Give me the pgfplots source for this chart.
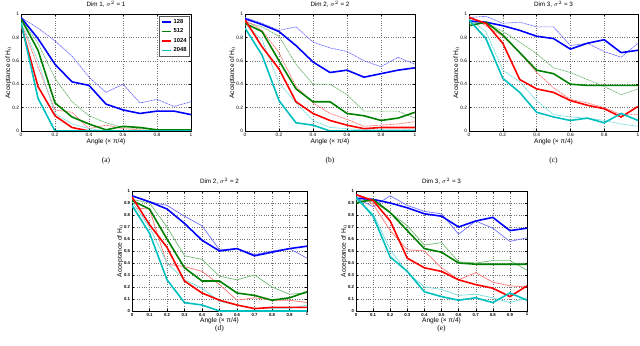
\documentclass[border=0pt]{standalone}
\usepackage{fontspec}
\setmainfont{Liberation Sans}
\newfontfamily\seriffont{Liberation Serif}
\usepackage{pgfplots}
\pgfplotsset{compat=1.18}
\definecolor{mB}{rgb}{0,0,1}
\definecolor{mG}{rgb}{0,0.5,0}
\definecolor{mR}{rgb}{1,0,0}
\definecolor{mC}{rgb}{0,0.75,0.75}
\pgfplotsset{
  panel/.style={scale only axis, anchor=south west,
    xmin=0,xmax=1,ymin=0,ymax=1,
    grid=major, major grid style={dotted, black!55, line width=0.4pt},
    tick align=inside, major tick length=2pt,
    tick style={black, line width=0.3pt},
    axis line style={line width=0.5pt},
    /pgf/number format/assume math mode=true,
    tick label style={font=\fontsize{4.8}{5}\selectfont},
    xticklabel style={yshift=1.5pt},
    yticklabel style={xshift=1.5pt},
    label style={font=\fontsize{6.6}{7}\selectfont},
    xlabel={Angle (× π/4)}, ylabel={Acceptance of H$_0$},
    xlabel style={yshift=5pt}, ylabel style={yshift=-6pt},
    title style={font=\fontsize{6.3}{7}\selectfont, yshift=-3pt},
  },
  top/.style={panel, width=170bp, height=117bp,
    xtick={0,0.2,0.4,0.6,0.8,1}, ytick={0,0.2,0.4,0.6,0.8,1},
    xticklabels={0,0.2,0.4,0.6,0.8,1}, yticklabels={0,0.2,0.4,0.6,0.8,1}},
  bot/.style={panel, height=120bp,
    xtick={0,0.1,0.2,0.3,0.4,0.5,0.6,0.7,0.8,0.9,1},
    ytick={0,0.1,0.2,0.3,0.4,0.5,0.6,0.7,0.8,0.9,1},
    xticklabels={0,0.1,0.2,0.3,0.4,0.5,0.6,0.7,0.8,0.9,1},
    yticklabels={0,0.1,0.2,0.3,0.4,0.5,0.6,0.7,0.8,0.9,1},
    tick label style={font=\fontsize{4.3}{4.5}\selectfont\bfseries}},
  thk/.style={line width=1.6pt, color=#1},
  tnd/.style={line width=0.7pt, color=#1!60, dash pattern=on 1.6pt off 0.6pt on 0.4pt off 0.6pt, forget plot},
  tns/.style={line width=0.7pt, color=#1!55, forget plot},
}
\begin{document}
\begin{tikzpicture}[x=1bp,y=1bp]
\path[use as bounding box] (0,0) rectangle (640,345);
% ---------------- (a)
\begin{axis}[top, name=pa, at={(21bp,214bp)}, title={Dim 1, $\sigma^2$ = 1},
  legend image code/.code={\draw[#1] (0cm,0cm) -- (0.32cm,0cm);},
  legend style={at={(0.995,0.985)}, anchor=north east, font=\fontsize{5.8}{6}\selectfont\bfseries,
    draw=black!65, line width=0.8pt, inner sep=1.2pt, row sep=0pt, fill=white},
  legend cell align=left]
\addplot[tnd=mB] coordinates {(0,0.97)(0.1,0.88)(0.2,0.77)(0.3,0.64)(0.4,0.46)(0.5,0.33)(0.6,0.40)(0.7,0.24)(0.8,0.27)(0.9,0.21)(1,0.25)};
\addplot[tnd=mG] coordinates {(0,0.96)(0.1,0.75)(0.2,0.45)(0.3,0.25)(0.4,0.13)(0.5,0.07)(0.6,0.03)(0.7,0.02)(0.8,0.01)(0.9,0.01)(1,0.0)};
\addplot[tnd=mR] coordinates {(0,0.93)(0.1,0.55)(0.2,0.18)(0.3,0.16)(0.4,0.02)(0.5,0.05)(0.6,0.02)(0.7,0.01)(0.8,0)(0.9,0)(1,0)};
\addplot[tnd=mC] coordinates {(0,0.93)(0.1,0.60)(0.2,0.15)(0.3,0.06)(0.4,0.02)(0.5,0)(0.6,0)(0.7,0)(0.8,0)(0.9,0)(1,0)};
\addplot[thk=mB] coordinates {(0,0.97)(0.1,0.79)(0.2,0.57)(0.3,0.42)(0.4,0.39)(0.5,0.23)(0.6,0.18)(0.7,0.15)(0.8,0.17)(0.9,0.17)(1,0.14)};
\addlegendentry{128}
\addplot[thk=mG] coordinates {(0,0.96)(0.1,0.69)(0.2,0.24)(0.3,0.12)(0.4,0.06)(0.5,0.01)(0.6,0.04)(0.7,0.03)(0.8,0.01)(0.9,0.01)(1,0.01)};
\addlegendentry{512}
\addplot[thk=mR] coordinates {(0,0.91)(0.1,0.38)(0.2,0.13)(0.3,0.03)(0.4,0)(0.5,0)(0.6,0)(0.7,0)(0.8,0)(0.9,0)(1,0)};
\addlegendentry{1024}
\addplot[thk=mC] coordinates {(0,0.93)(0.1,0.28)(0.2,0)(0.3,0)(0.4,0)(0.5,0)(0.6,0)(0.7,0)(0.8,0)(0.9,0)(1,0)};
\addlegendentry{2048}
\end{axis}
% ---------------- (b)
\begin{axis}[top, name=pb, at={(245bp,214bp)}, title={Dim 2, $\sigma^2$ = 2}]
\addplot[tnd=mB] coordinates {(0,0.97)(0.1,0.92)(0.2,0.86)(0.3,0.89)(0.4,0.76)(0.5,0.71)(0.6,0.68)(0.7,0.60)(0.8,0.55)(0.9,0.63)(1,0.57)};
\addplot[tnd=mG] coordinates {(0,0.93)(0.1,0.89)(0.2,0.81)(0.3,0.57)(0.4,0.40)(0.5,0.40)(0.6,0.31)(0.7,0.17)(0.8,0.17)(0.9,0.17)(1,0.11)};
\addplot[tnd=mR] coordinates {(0,0.95)(0.1,0.86)(0.2,0.67)(0.3,0.38)(0.4,0.24)(0.5,0.15)(0.6,0.10)(0.7,0.04)(0.8,0.05)(0.9,0.06)(1,0.08)};
\addplot[tnd=mC] coordinates {(0,0.91)(0.1,0.78)(0.2,0.41)(0.3,0.24)(0.4,0.09)(0.5,0.03)(0.6,0.02)(0.7,0.01)(0.8,0.01)(0.9,0.01)(1,0.01)};
\addplot[thk=mB] coordinates {(0,0.96)(0.1,0.91)(0.2,0.85)(0.3,0.73)(0.4,0.59)(0.5,0.50)(0.6,0.52)(0.7,0.46)(0.8,0.49)(0.9,0.52)(1,0.54)};
\addplot[thk=mG] coordinates {(0,0.92)(0.1,0.85)(0.2,0.60)(0.3,0.36)(0.4,0.25)(0.5,0.25)(0.6,0.15)(0.7,0.13)(0.8,0.09)(0.9,0.11)(1,0.16)};
\addplot[thk=mR] coordinates {(0,0.95)(0.1,0.72)(0.2,0.53)(0.3,0.25)(0.4,0.15)(0.5,0.09)(0.6,0.05)(0.7,0.02)(0.8,0.03)(0.9,0.03)(1,0.03)};
\addplot[thk=mC] coordinates {(0,0.88)(0.1,0.65)(0.2,0.26)(0.3,0.07)(0.4,0.05)(0.5,0)(0.6,0)(0.7,0)(0.8,0)(0.9,0)(1,0)};
\end{axis}
% ---------------- (c)
\begin{axis}[top, name=pc, at={(469bp,214bp)}, width=169bp, title={Dim 3, $\sigma^2$ = 3}]
\addplot[tnd=mB] coordinates {(0,0.97)(0.1,0.98)(0.2,0.92)(0.3,0.93)(0.4,0.89)(0.5,0.89)(0.6,0.73)(0.7,0.75)(0.8,0.68)(0.9,0.63)(1,0.75)};
\addplot[tnd=mG] coordinates {(0,0.92)(0.1,0.93)(0.2,0.85)(0.3,0.76)(0.4,0.66)(0.5,0.54)(0.6,0.50)(0.7,0.44)(0.8,0.38)(0.9,0.31)(1,0.36)};
\addplot[tnd=mR] coordinates {(0,0.98)(0.1,0.90)(0.2,0.81)(0.3,0.67)(0.4,0.50)(0.5,0.37)(0.6,0.27)(0.7,0.24)(0.8,0.20)(0.9,0.14)(1,0.14)};
\addplot[tnd=mC] coordinates {(0,0.96)(0.1,0.85)(0.2,0.52)(0.3,0.42)(0.4,0.26)(0.5,0.14)(0.6,0.12)(0.7,0.11)(0.8,0.09)(0.9,0.06)(1,0.04)};
\addplot[thk=mB] coordinates {(0,0.94)(0.1,0.93)(0.2,0.90)(0.3,0.86)(0.4,0.81)(0.5,0.79)(0.6,0.70)(0.7,0.75)(0.8,0.78)(0.9,0.67)(1,0.69)};
\addplot[thk=mG] coordinates {(0,0.90)(0.1,0.93)(0.2,0.82)(0.3,0.67)(0.4,0.52)(0.5,0.49)(0.6,0.40)(0.7,0.39)(0.8,0.39)(0.9,0.39)(1,0.39)};
\addplot[thk=mR] coordinates {(0,0.97)(0.1,0.92)(0.2,0.75)(0.3,0.44)(0.4,0.36)(0.5,0.33)(0.6,0.26)(0.7,0.22)(0.8,0.19)(0.9,0.12)(1,0.21)};
\addplot[thk=mC] coordinates {(0,0.95)(0.1,0.79)(0.2,0.45)(0.3,0.33)(0.4,0.16)(0.5,0.12)(0.6,0.09)(0.7,0.11)(0.8,0.07)(0.9,0.15)(1,0.09)};
\end{axis}
% ---------------- (d)
\begin{axis}[bot, name=pd, at={(132bp,34bp)}, width=175bp, title={Dim 2, $\sigma^2$ = 2}]
\addplot[tns=mB] coordinates {(0,0.96)(0.1,0.91)(0.2,0.88)(0.3,0.79)(0.4,0.71)(0.5,0.51)(0.6,0.52)(0.7,0.47)(0.8,0.50)(0.9,0.52)(1,0.44)};
\addplot[tns=mG] coordinates {(0,0.93)(0.1,0.90)(0.2,0.70)(0.3,0.46)(0.4,0.43)(0.5,0.29)(0.6,0.26)(0.7,0.30)(0.8,0.20)(0.9,0.14)(1,0.15)};
\addplot[tns=mR] coordinates {(0,0.86)(0.1,0.85)(0.2,0.39)(0.3,0.37)(0.4,0.33)(0.5,0.22)(0.6,0.09)(0.7,0.11)(0.8,0.09)(0.9,0.09)(1,0.07)};
\addplot[tns=mC] coordinates {(0,0.91)(0.1,0.70)(0.2,0.40)(0.3,0.26)(0.4,0.19)(0.5,0.08)(0.6,0.05)(0.7,0.02)(0.8,0.02)(0.9,0.02)(1,0.05)};
\addplot[thk=mB] coordinates {(0,0.96)(0.1,0.91)(0.2,0.85)(0.3,0.73)(0.4,0.59)(0.5,0.50)(0.6,0.52)(0.7,0.46)(0.8,0.49)(0.9,0.52)(1,0.54)};
\addplot[thk=mG] coordinates {(0,0.92)(0.1,0.85)(0.2,0.60)(0.3,0.36)(0.4,0.25)(0.5,0.25)(0.6,0.15)(0.7,0.13)(0.8,0.09)(0.9,0.11)(1,0.16)};
\addplot[thk=mR] coordinates {(0,0.95)(0.1,0.72)(0.2,0.53)(0.3,0.25)(0.4,0.15)(0.5,0.09)(0.6,0.05)(0.7,0.02)(0.8,0.03)(0.9,0.03)(1,0.03)};
\addplot[thk=mC] coordinates {(0,0.88)(0.1,0.65)(0.2,0.26)(0.3,0.07)(0.4,0.05)(0.5,0)(0.6,0)(0.7,0)(0.8,0)(0.9,0)(1,0)};
\end{axis}
% ---------------- (e)
\begin{axis}[bot, name=pe, at={(356bp,34bp)}, width=171bp, title={Dim 3, $\sigma^2$ = 3}]
\addplot[tns=mB] coordinates {(0,0.94)(0.1,0.87)(0.2,0.96)(0.3,0.88)(0.4,0.83)(0.5,0.81)(0.6,0.64)(0.7,0.75)(0.8,0.69)(0.9,0.58)(1,0.61)};
\addplot[tns=mG] coordinates {(0,0.93)(0.1,0.91)(0.2,0.82)(0.3,0.71)(0.4,0.55)(0.5,0.57)(0.6,0.41)(0.7,0.40)(0.8,0.42)(0.9,0.42)(1,0.34)};
\addplot[tns=mR] coordinates {(0,0.97)(0.1,0.89)(0.2,0.67)(0.3,0.51)(0.4,0.50)(0.5,0.36)(0.6,0.26)(0.7,0.32)(0.8,0.24)(0.9,0.21)(1,0.20)};
\addplot[tns=mC] coordinates {(0,0.93)(0.1,0.81)(0.2,0.51)(0.3,0.32)(0.4,0.20)(0.5,0.18)(0.6,0.13)(0.7,0.14)(0.8,0.11)(0.9,0.07)(1,0.11)};
\addplot[thk=mB] coordinates {(0,0.94)(0.1,0.93)(0.2,0.90)(0.3,0.86)(0.4,0.81)(0.5,0.79)(0.6,0.70)(0.7,0.75)(0.8,0.78)(0.9,0.67)(1,0.69)};
\addplot[thk=mG] coordinates {(0,0.90)(0.1,0.93)(0.2,0.82)(0.3,0.67)(0.4,0.52)(0.5,0.49)(0.6,0.40)(0.7,0.39)(0.8,0.39)(0.9,0.39)(1,0.39)};
\addplot[thk=mR] coordinates {(0,0.97)(0.1,0.92)(0.2,0.75)(0.3,0.44)(0.4,0.36)(0.5,0.33)(0.6,0.26)(0.7,0.22)(0.8,0.19)(0.9,0.12)(1,0.21)};
\addplot[thk=mC] coordinates {(0,0.95)(0.1,0.79)(0.2,0.45)(0.3,0.33)(0.4,0.16)(0.5,0.12)(0.6,0.09)(0.7,0.11)(0.8,0.07)(0.9,0.15)(1,0.09)};
\end{axis}
\node[font=\seriffont\fontsize{7.5}{8}\selectfont] at ([yshift=-30bp]pa.south) {(a)};
\node[font=\seriffont\fontsize{7.5}{8}\selectfont] at ([yshift=-30bp]pb.south) {(b)};
\node[font=\seriffont\fontsize{7.5}{8}\selectfont] at ([yshift=-30bp]pc.south) {(c)};
\node[font=\seriffont\fontsize{7.5}{8}\selectfont] at ([yshift=-18bp]pd.south) {(d)};
\node[font=\seriffont\fontsize{7.5}{8}\selectfont] at ([yshift=-18bp]pe.south) {(e)};
\end{tikzpicture}
\end{document}
